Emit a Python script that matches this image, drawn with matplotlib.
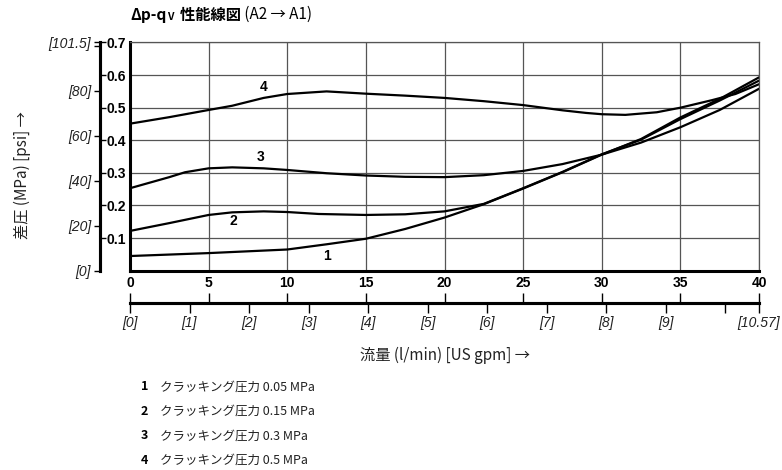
import matplotlib
matplotlib.use('Agg')
import matplotlib.pyplot as plt
from matplotlib.ticker import MultipleLocator

plt.rcParams['font.family'] = ['Noto Sans CJK JP', 'DejaVu Sans']
NUM_FONT = ['Liberation Sans Narrow', 'Liberation Sans', 'DejaVu Sans']

# flow rate q (l/min) and pressure drop p (MPa)
q1 = [0, 5, 10, 12.5, 15, 17.5, 20, 22.5, 25, 27.5, 30, 32.5, 35, 37.5, 40]
p1 = [0.045, 0.054, 0.065, 0.081, 0.098, 0.128, 0.163, 0.204, 0.252, 0.302,
      0.356, 0.404, 0.470, 0.527, 0.593]

q2 = [0, 2.5, 5, 6.5, 8.5, 10, 12, 15, 17.5, 20, 22.5, 25, 27.5, 30, 32.5,
      35, 37.5, 40]
p2 = [0.122, 0.146, 0.171, 0.179, 0.182, 0.180, 0.174, 0.171, 0.173, 0.182,
      0.205, 0.253, 0.303, 0.357, 0.402, 0.465, 0.522, 0.583]

q3 = [0, 2.5, 3.5, 5, 6.5, 8.5, 10, 12.5, 15, 17.5, 20, 22.5, 25, 27.5, 30,
      32.5, 35, 37.5, 40]
p3 = [0.253, 0.287, 0.302, 0.314, 0.317, 0.314, 0.309, 0.299, 0.292, 0.288,
      0.287, 0.293, 0.306, 0.327, 0.356, 0.393, 0.440, 0.493, 0.558]

q4 = [0, 2.5, 5, 6.5, 8.5, 10, 12.5, 15, 17.5, 20, 22.5, 25, 27.5, 29, 30,
      31.5, 33.5, 35, 37, 38.5, 40]
p4 = [0.451, 0.471, 0.493, 0.506, 0.530, 0.542, 0.550, 0.543, 0.537, 0.530,
      0.520, 0.508, 0.492, 0.484, 0.480, 0.478, 0.486, 0.500, 0.523, 0.542,
      0.572]

curves = [(q1, p1), (q2, p2), (q3, p3), (q4, p4)]
curve_names = ['1', '2', '3', '4']
name_pos = [(12.5, 0.045), (6.6, 0.153), (8.3, 0.35), (8.5, 0.565)]

x_ticks = [0, 5, 10, 15, 20, 25, 30, 35, 40]
mpa_ticks = [0.1, 0.2, 0.3, 0.4, 0.5, 0.6, 0.7]
psi_ticks = [0, 20, 40, 60, 80, 100, 101.5]
psi_labels = ['[0]', '[20]', '[40]', '[60]', '[80]', '', '[101.5]']
gpm_ticks = [0, 1, 2, 3, 4, 5, 6, 7, 8, 9, 10, 10.57]
gpm_labels = ['[0]', '[1]', '[2]', '[3]', '[4]', '[5]', '[6]', '[7]', '[8]',
              '[9]', '', '[10.57]']

legend_nums = ['1', '2', '3', '4']
legend_texts = ['クラッキング圧力 0.05 MPa', 'クラッキング圧力 0.15 MPa',
                'クラッキング圧力 0.3 MPa', 'クラッキング圧力 0.5 MPa']

MPA_TO_PSI = 101.5 / 0.7
LPM_TO_GPM = 10.57 / 40

W, H = 782, 470
fig = plt.figure(figsize=(W / 100, H / 100), dpi=100)
ax = fig.add_axes([130 / W, 1 - 270.7 / H, 629 / W, 228.2 / H])

for q, p in curves:
    ax.plot(q, p, color='black', lw=1.6, solid_capstyle='round')
for name, (x, y) in zip(curve_names, name_pos):
    ax.text(x, y, name, family=NUM_FONT, fontweight='bold', fontsize=10,
            ha='center', va='center')

ax.set_xlim(0, 40)
ax.set_ylim(0, 0.7)
ax.xaxis.set_major_locator(MultipleLocator(5))
ax.yaxis.set_major_locator(MultipleLocator(0.1))
ax.grid(True, color='#555555', lw=0.9)
ax.set_axisbelow(True)
ax.set_xticks(x_ticks, labels=[str(v) for v in x_ticks], family=NUM_FONT,
              fontweight='bold', fontsize=10)
ax.tick_params(axis='x', length=0, pad=4)
ax.tick_params(axis='y', length=0, labelleft=False)
for side in ['left', 'bottom']:
    ax.spines[side].set_linewidth(2.2)
for side in ['top', 'right']:
    ax.spines[side].set_linewidth(0.9)
    ax.spines[side].set_color('#555555')

# psi axis (left of the MPa labels)
yloc = -30 / 629
psi = ax.secondary_yaxis(yloc, functions=(lambda v: v * MPA_TO_PSI,
                                          lambda v: v / MPA_TO_PSI))
psi.set_ticks(psi_ticks, labels=psi_labels, fontstyle='italic', fontsize=10,
              color='#222222', family=NUM_FONT)
psi.tick_params(length=4.3, width=1.0, pad=2)
psi.spines['left'].set_linewidth(2.2)

# MPa ticks and labels pointing into the gap
mpa = ax.secondary_yaxis(yloc)
mpa.set_alignment('right')
mpa.set_ticks(mpa_ticks, labels=[f'{v:.1f}' for v in mpa_ticks],
              family=NUM_FONT, fontweight='bold', fontsize=10)
mpa.tick_params(length=4.3, width=1.0, pad=0.5)
mpa.spines['right'].set_linewidth(2.2)

# US gpm axis below
xloc = -32.5 / 228.2
gpm = ax.secondary_xaxis(xloc, functions=(lambda v: v * LPM_TO_GPM,
                                          lambda v: v / LPM_TO_GPM))
gpm.set_ticks(gpm_ticks, labels=gpm_labels, fontstyle='italic', fontsize=10,
              color='#222222', family=NUM_FONT)
gpm.tick_params(length=7, width=1.0, pad=2)
gpm.spines['bottom'].set_linewidth(2.2)

lpm = ax.secondary_xaxis(xloc)
lpm.set_alignment('top')
lpm.set_ticks(x_ticks, labels=[])
lpm.tick_params(length=7, width=1.0)
lpm.spines['top'].set_linewidth(2.2)

# title pieces
t1 = fig.text(130 / W, 1 - 20 / H, 'Δp-q', fontsize=11, fontweight='bold',
              va='baseline')
t2 = ax.annotate('V', xy=(1, 0), xycoords=t1, xytext=(0.3, 1),
                 textcoords='offset points', fontsize=7.5, fontweight='bold',
                 va='bottom')
t3 = ax.annotate('  性能線図', xy=(1, 0), xycoords=(t2, t1), fontsize=11,
                 fontweight='bold', va='bottom')
ax.annotate(' (A2 → A1)', xy=(1, 0), xycoords=(t3, t1), fontsize=11,
            va='bottom')

fig.text(22 / W, 1 - 175 / H, '差圧 (MPa) [psi] →', rotation=90, fontsize=11,
         ha='center', va='center', color='#222222')
fig.text(445 / W, 1 - 355 / H, '流量 (l/min) [US gpm] →', fontsize=11,
         ha='center', va='center', color='#222222')

for i, (n, t) in enumerate(zip(legend_nums, legend_texts)):
    y = 1 - (387 + 24.4 * i) / H
    fig.text(141 / W, y, n, fontsize=9, fontweight='bold', va='center')
    fig.text(160 / W, y, t, fontsize=9, va='center', color='#222222')

fig.savefig('out.png', dpi=100)
